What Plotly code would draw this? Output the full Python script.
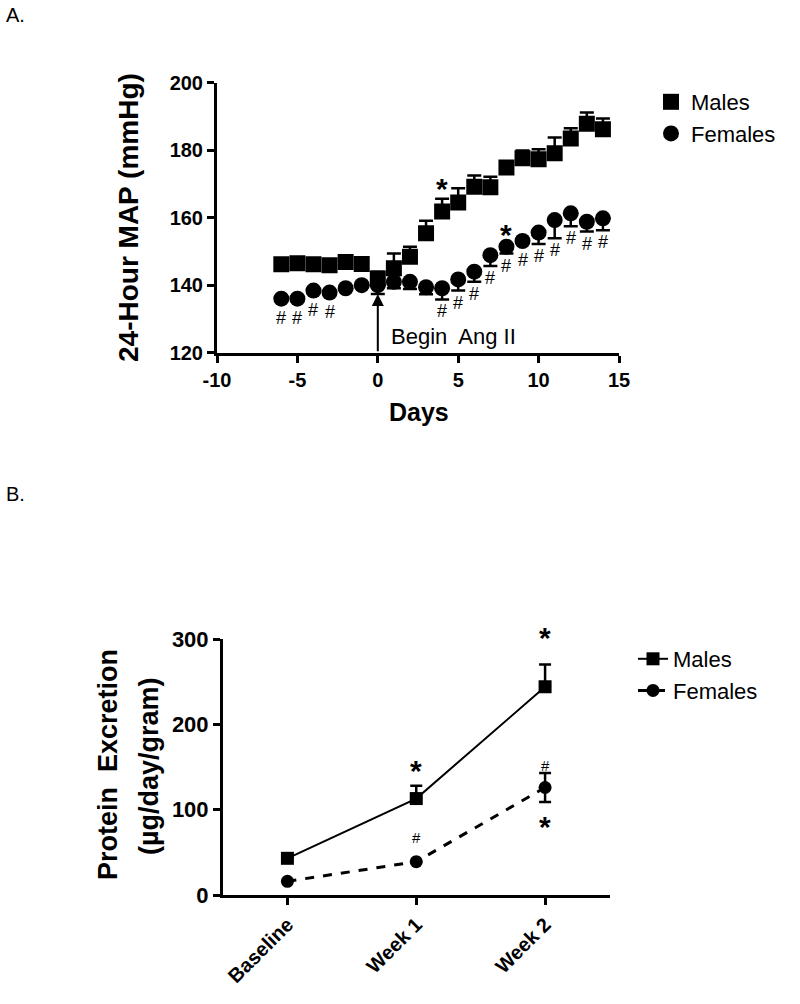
import plotly.graph_objects as go

# ---------------- Data: Panel A (24-hour MAP) ----------------
days = list(range(-6, 15))
male_map = [146.2, 146.5, 146.2, 145.9, 146.9, 146.3, 142.0, 145.0, 148.4, 155.4, 161.8,
            164.5, 169.2, 169.0, 174.9, 177.6, 177.3, 179.1, 183.5, 187.8, 186.2]
male_map_err = [0, 0, 0, 0, 0, 0, 2.0, 4.4, 3.0, 3.7, 3.8,
                4.2, 3.3, 3.1, 0, 2.3, 3.0, 4.7, 3.0, 3.4, 3.2]
female_map = [136.0, 136.0, 138.4, 137.8, 139.1, 140.0, 140.0, 141.0, 141.0, 139.4, 139.1,
              141.7, 144.0, 148.9, 151.4, 153.1, 155.6, 159.3, 161.3, 158.8, 159.8]
female_map_err = [0, 0, 0, 0, 0, 0, 2.6, 1.9, 2.1, 2.1, 3.3,
                  3.3, 3.0, 3.2, 2.0, 0, 3.4, 5.4, 3.8, 2.9, 3.5]
hash_days = [-6, -5, -4, -3, 4, 5, 6, 7, 8, 9, 10, 11, 12, 13, 14]
male_star_days = [4]
female_star_days = [8]
map_yticks = [120, 140, 160, 180, 200]
day_ticks = [-10, -5, 0, 5, 10, 15]

# ---------------- Data: Panel B (protein excretion) ----------------
weeks = ["Baseline", "Week 1", "Week 2"]
male_prot = [43, 113, 244]
male_prot_err = [0, 15, 26]
female_prot = [16, 39, 126]
female_prot_err = [0, 0, 17]
prot_yticks = [0, 100, 200, 300]

FONT = "Arial, Liberation Sans, sans-serif"
BLACK = "black"

fig = go.Figure()

# Panel A traces
fig.add_trace(go.Scatter(
    x=days, y=male_map, mode="markers", name="Males",
    marker=dict(symbol="square", size=16, color=BLACK),
    error_y=dict(type="data", symmetric=False, array=male_map_err,
                 arrayminus=[0] * len(male_map_err), color=BLACK, thickness=2.5, width=7),
    xaxis="x", yaxis="y", legend="legend"))
fig.add_trace(go.Scatter(
    x=days, y=female_map, mode="markers", name="Females",
    marker=dict(symbol="circle", size=16, color=BLACK),
    error_y=dict(type="data", symmetric=False, array=[0] * len(female_map_err),
                 arrayminus=female_map_err, color=BLACK, thickness=2.5, width=7),
    xaxis="x", yaxis="y", legend="legend"))

# Panel B traces
fig.add_trace(go.Scatter(
    x=[0, 1, 2], y=male_prot, mode="lines+markers", name="Males",
    line=dict(color=BLACK, width=2),
    marker=dict(symbol="square", size=13, color=BLACK),
    error_y=dict(type="data", symmetric=False, array=male_prot_err,
                 arrayminus=[0] * len(male_prot_err), color=BLACK, thickness=2.5, width=6),
    xaxis="x2", yaxis="y2", legend="legend2"))
fig.add_trace(go.Scatter(
    x=[0, 1, 2], y=female_prot, mode="lines+markers", name="Females",
    line=dict(color=BLACK, width=3, dash="dash"),
    marker=dict(symbol="circle", size=13, color=BLACK),
    error_y=dict(type="data", array=female_prot_err, color=BLACK, thickness=2.5, width=6),
    xaxis="x2", yaxis="y2", legend="legend2"))

annotations = []

# Hash marks below female points (panel A)
for d in hash_days:
    i = days.index(d)
    low = min(female_map[i] - female_map_err[i], female_map[i] - 2.2)
    annotations.append(dict(x=d, y=low, xref="x", yref="y", text="#", showarrow=False,
                            xanchor="center", yanchor="top", yshift=0,
                            font=dict(family=FONT, size=18, color=BLACK)))
# Stars (panel A)
for d in male_star_days:
    i = days.index(d)
    annotations.append(dict(x=d, y=male_map[i] + male_map_err[i], xref="x", yref="y", text="*",
                            showarrow=False, xanchor="center", yanchor="bottom", yshift=-8,
                            font=dict(family=FONT, size=30, color=BLACK, weight="bold")))
for d in female_star_days:
    i = days.index(d)
    annotations.append(dict(x=d, y=female_map[i], xref="x", yref="y", text="*",
                            showarrow=False, xanchor="center", yanchor="bottom", yshift=-6,
                            font=dict(family=FONT, size=30, color=BLACK, weight="bold")))

# Arrow "Begin Ang II"
i0 = days.index(0)
annotations.append(dict(x=0, y=female_map[i0] - female_map_err[i0], ax=0, ay=120,
                        xref="x", yref="y", axref="x", ayref="y", text="",
                        showarrow=True, arrowhead=2, arrowsize=1.2, arrowwidth=2, arrowcolor=BLACK))
annotations.append(dict(x=4.7, y=124.7, xref="x", yref="y", text="Begin\u00a0 Ang II",
                        showarrow=False, xanchor="center", yanchor="middle",
                        font=dict(family=FONT, size=22, color=BLACK)))

# Axis titles panel A
annotations.append(dict(x=128 / 800, y=1 - 218 / 1004, xref="paper", yref="paper",
                        text="24-Hour MAP (mmHg)", textangle=-90, showarrow=False,
                        xanchor="center", yanchor="middle",
                        font=dict(family=FONT, size=28, color=BLACK, weight="bold")))
annotations.append(dict(x=419 / 800, y=1 - 412 / 1004, xref="paper", yref="paper",
                        text="Days", showarrow=False, xanchor="center", yanchor="middle",
                        font=dict(family=FONT, size=25, color=BLACK, weight="bold")))

# Panel labels
annotations.append(dict(x=4 / 800, y=1 - 2 / 1004, xref="paper", yref="paper", text="A.",
                        showarrow=False, xanchor="left", yanchor="top",
                        font=dict(family=FONT, size=20, color=BLACK)))
annotations.append(dict(x=4 / 800, y=1 - 481 / 1004, xref="paper", yref="paper", text="B.",
                        showarrow=False, xanchor="left", yanchor="top",
                        font=dict(family=FONT, size=20, color=BLACK)))

# Panel B annotations
annotations.append(dict(x=1, y=male_prot[1] + male_prot_err[1], xref="x2", yref="y2", text="*",
                        showarrow=False, xanchor="center", yanchor="bottom", yshift=-3,
                        font=dict(family=FONT, size=30, color=BLACK, weight="bold")))
annotations.append(dict(x=2, y=male_prot[2] + male_prot_err[2], xref="x2", yref="y2", text="*",
                        showarrow=False, xanchor="center", yanchor="bottom", yshift=9,
                        font=dict(family=FONT, size=30, color=BLACK, weight="bold")))
annotations.append(dict(x=1, y=female_prot[1], xref="x2", yref="y2", text="#",
                        showarrow=False, xanchor="center", yanchor="bottom", yshift=14,
                        font=dict(family=FONT, size=15, color=BLACK)))
annotations.append(dict(x=2, y=female_prot[2] + female_prot_err[2], xref="x2", yref="y2", text="#",
                        showarrow=False, xanchor="center", yanchor="bottom", yshift=-3,
                        font=dict(family=FONT, size=15, color=BLACK)))
annotations.append(dict(x=2, y=female_prot[2] - female_prot_err[2], xref="x2", yref="y2", text="*",
                        showarrow=False, xanchor="center", yanchor="top", yshift=-6,
                        font=dict(family=FONT, size=30, color=BLACK, weight="bold")))

# Axis titles panel B (two lines)
annotations.append(dict(x=108 / 800, y=1 - 765 / 1004, xref="paper", yref="paper",
                        text="Protein\u00a0 Excretion", textangle=-90, showarrow=False,
                        xanchor="center", yanchor="middle",
                        font=dict(family=FONT, size=27, color=BLACK, weight="bold")))
annotations.append(dict(x=149 / 800, y=1 - 766 / 1004, xref="paper", yref="paper",
                        text="(µg/day/gram)", textangle=-90, showarrow=False,
                        xanchor="center", yanchor="middle",
                        font=dict(family=FONT, size=27, color=BLACK, weight="bold")))

axis_common = dict(showline=True, linewidth=3, linecolor=BLACK, ticks="outside",
                   ticklen=7, tickwidth=3, tickcolor=BLACK, showgrid=False, zeroline=False,
                   automargin=False)

fig.update_layout(
    width=800, height=1004,
    margin=dict(l=0, r=0, t=0, b=0, autoexpand=False),
    paper_bgcolor="white", plot_bgcolor="white",
    annotations=annotations,
    xaxis=dict(domain=[217 / 800, 619 / 800], range=[-10, 15], tickvals=day_ticks,
               ticktext=[str(t) for t in day_ticks],
               tickfont=dict(family=FONT, size=20, color=BLACK, weight="bold"),
               anchor="y", **axis_common),
    yaxis=dict(domain=[1 - 352.7 / 1004, 1 - 82.7 / 1004], range=[120, 200], tickvals=map_yticks,
               ticktext=[str(t) for t in map_yticks],
               tickfont=dict(family=FONT, size=20, color=BLACK, weight="bold"),
               anchor="x", **axis_common),
    xaxis2=dict(domain=[223 / 800, 609.5 / 800], range=[-0.5, 2.5], tickvals=[0, 1, 2],
                ticktext=weeks, tickangle=-45,
                tickfont=dict(family=FONT, size=20, color=BLACK, weight="bold"),
                anchor="y2", **axis_common),
    yaxis2=dict(domain=[1 - 895 / 1004, 1 - 639 / 1004], range=[0, 300], tickvals=prot_yticks,
                ticktext=[str(t) for t in prot_yticks],
                tickfont=dict(family=FONT, size=22, color=BLACK, weight="bold"),
                anchor="x2", **axis_common),
    legend=dict(x=651 / 800, y=1 - 81 / 1004, xanchor="left", yanchor="top",
                font=dict(family=FONT, size=22, color=BLACK), bgcolor="rgba(0,0,0,0)",
                tracegroupgap=0),
    legend2=dict(x=633 / 800, y=1 - 638 / 1004, xanchor="left", yanchor="top",
                 font=dict(family=FONT, size=22, color=BLACK), bgcolor="rgba(0,0,0,0)",
                 tracegroupgap=0),
    showlegend=True,
)

fig.write_html("out.html", config={"displayModeBar": False},
               post_script="document.body.style.margin = '0';")
